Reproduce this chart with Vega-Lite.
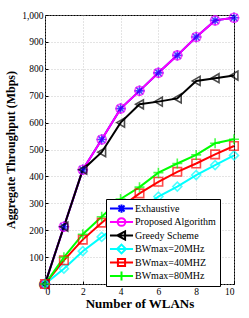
{
  "$schema": "https://vega.github.io/schema/vega-lite/v6.json",
  "width": 189,
  "height": 269,
  "autosize": "none",
  "padding": {"left": 45, "top": 15, "right": 15, "bottom": 34},
  "background": "white",
  "data": {"values": [
    {"n": 0, "scheme": "Exhaustive", "thr": 0},
    {"n": 1, "scheme": "Exhaustive", "thr": 213},
    {"n": 2, "scheme": "Exhaustive", "thr": 425},
    {"n": 3, "scheme": "Exhaustive", "thr": 537},
    {"n": 4, "scheme": "Exhaustive", "thr": 652},
    {"n": 5, "scheme": "Exhaustive", "thr": 718},
    {"n": 6, "scheme": "Exhaustive", "thr": 785},
    {"n": 7, "scheme": "Exhaustive", "thr": 850},
    {"n": 8, "scheme": "Exhaustive", "thr": 918},
    {"n": 9, "scheme": "Exhaustive", "thr": 980},
    {"n": 10, "scheme": "Exhaustive", "thr": 990},
    {"n": 0, "scheme": "Proposed Algorithm", "thr": 0},
    {"n": 1, "scheme": "Proposed Algorithm", "thr": 213},
    {"n": 2, "scheme": "Proposed Algorithm", "thr": 425},
    {"n": 3, "scheme": "Proposed Algorithm", "thr": 537},
    {"n": 4, "scheme": "Proposed Algorithm", "thr": 652},
    {"n": 5, "scheme": "Proposed Algorithm", "thr": 718},
    {"n": 6, "scheme": "Proposed Algorithm", "thr": 785},
    {"n": 7, "scheme": "Proposed Algorithm", "thr": 850},
    {"n": 8, "scheme": "Proposed Algorithm", "thr": 918},
    {"n": 9, "scheme": "Proposed Algorithm", "thr": 980},
    {"n": 10, "scheme": "Proposed Algorithm", "thr": 990},
    {"n": 0, "scheme": "Greedy Scheme", "thr": 0},
    {"n": 1, "scheme": "Greedy Scheme", "thr": 213},
    {"n": 2, "scheme": "Greedy Scheme", "thr": 425},
    {"n": 3, "scheme": "Greedy Scheme", "thr": 490},
    {"n": 4, "scheme": "Greedy Scheme", "thr": 600},
    {"n": 5, "scheme": "Greedy Scheme", "thr": 668},
    {"n": 6, "scheme": "Greedy Scheme", "thr": 678},
    {"n": 7, "scheme": "Greedy Scheme", "thr": 690},
    {"n": 8, "scheme": "Greedy Scheme", "thr": 755},
    {"n": 9, "scheme": "Greedy Scheme", "thr": 765},
    {"n": 10, "scheme": "Greedy Scheme", "thr": 775},
    {"n": 0, "scheme": "BWmax=20MHz", "thr": 0},
    {"n": 1, "scheme": "BWmax=20MHz", "thr": 57},
    {"n": 2, "scheme": "BWmax=20MHz", "thr": 122},
    {"n": 3, "scheme": "BWmax=20MHz", "thr": 175},
    {"n": 4, "scheme": "BWmax=20MHz", "thr": 225},
    {"n": 5, "scheme": "BWmax=20MHz", "thr": 275},
    {"n": 6, "scheme": "BWmax=20MHz", "thr": 325},
    {"n": 7, "scheme": "BWmax=20MHz", "thr": 362},
    {"n": 8, "scheme": "BWmax=20MHz", "thr": 405},
    {"n": 9, "scheme": "BWmax=20MHz", "thr": 442},
    {"n": 10, "scheme": "BWmax=20MHz", "thr": 478},
    {"n": 0, "scheme": "BWmax=40MHZ", "thr": 0},
    {"n": 1, "scheme": "BWmax=40MHZ", "thr": 88},
    {"n": 2, "scheme": "BWmax=40MHZ", "thr": 165},
    {"n": 3, "scheme": "BWmax=40MHZ", "thr": 228},
    {"n": 4, "scheme": "BWmax=40MHZ", "thr": 285},
    {"n": 5, "scheme": "BWmax=40MHZ", "thr": 337},
    {"n": 6, "scheme": "BWmax=40MHZ", "thr": 380},
    {"n": 7, "scheme": "BWmax=40MHZ", "thr": 417},
    {"n": 8, "scheme": "BWmax=40MHZ", "thr": 448},
    {"n": 9, "scheme": "BWmax=40MHZ", "thr": 482},
    {"n": 10, "scheme": "BWmax=40MHZ", "thr": 513},
    {"n": 0, "scheme": "BWmax=80MHz", "thr": 0},
    {"n": 1, "scheme": "BWmax=80MHz", "thr": 99},
    {"n": 2, "scheme": "BWmax=80MHz", "thr": 185},
    {"n": 3, "scheme": "BWmax=80MHz", "thr": 250},
    {"n": 4, "scheme": "BWmax=80MHz", "thr": 316},
    {"n": 5, "scheme": "BWmax=80MHz", "thr": 360},
    {"n": 6, "scheme": "BWmax=80MHz", "thr": 414},
    {"n": 7, "scheme": "BWmax=80MHz", "thr": 448},
    {"n": 8, "scheme": "BWmax=80MHz", "thr": 480},
    {"n": 9, "scheme": "BWmax=80MHz", "thr": 523},
    {"n": 10, "scheme": "BWmax=80MHz", "thr": 538}
  ]},
  "encoding": {
    "x": {"field": "n", "type": "quantitative",
      "scale": {"domain": [0, 10], "nice": false},
      "axis": {"title": "Number of WLANs", "values": [0, 2, 4, 6, 8, 10]}},
    "y": {"field": "thr", "type": "quantitative",
      "scale": {"domain": [0, 1000], "nice": false},
      "axis": {"title": "Aggregate Throughput (Mbps)", "values": [0, 100, 200, 300, 400, 500, 600, 700, 800, 900, 1000]}},
    "color": {"field": "scheme", "type": "nominal",
      "scale": {"domain": ["Exhaustive", "Proposed Algorithm", "Greedy Scheme", "BWmax=20MHz", "BWmax=40MHZ", "BWmax=80MHz"],
        "range": ["#0000ff", "#ff00ff", "#000000", "#00ffff", "#ff0000", "#00ff00"]},
      "legend": {
        "orient": "none", "legendX": 61, "legendY": 184, "title": null, "clipHeight": 13,
        "encode": {"symbols": {"update": {
          "shape": {"signal": "datum.value == 'Exhaustive' ? 'M-2.1,0H2.1M0,-0.75V0.75M-0.55,-0.55L0.55,0.55M-0.55,0.55L0.55,-0.55' : datum.value == 'Proposed Algorithm' ? 'M-2.1,0H2.1M0.7,0A0.7,0.7 0 1,1 -0.7,0A0.7,0.7 0 1,1 0.7,0Z' : datum.value == 'Greedy Scheme' ? 'M-2.1,0H2.1M-0.75,0L0.65,-0.75L0.65,0.75Z' : datum.value == 'BWmax=20MHz' ? 'M-2.1,0H2.1M-0.8,0L0,-0.8L0.8,0L0,0.8Z' : datum.value == 'BWmax=40MHZ' ? 'M-2.1,0H2.1M-0.65,-0.65H0.65V0.65H-0.65Z' : 'M-2.1,0H2.1M0,-0.8V0.8'"},
          "size": {"value": 121},
          "fill": {"value": "transparent"},
          "strokeWidth": {"value": 2}
        }}}
      }
    }
  },
  "layer": [
    {"mark": {"type": "line", "strokeWidth": 2}},
    {"transform": [{"filter": "datum.scheme == 'Exhaustive'"}],
      "mark": {"type": "point", "filled": false, "strokeWidth": 1.6, "size": 110, "shape": "M-1,0H1M0,-1V1M-0.7,-0.7L0.7,0.7M-0.7,0.7L0.7,-0.7"}},
    {"transform": [{"filter": "datum.scheme == 'Proposed Algorithm'"}],
      "mark": {"type": "point", "filled": false, "strokeWidth": 1.6, "size": 81, "shape": "circle"}},
    {"transform": [{"filter": "datum.scheme == 'Greedy Scheme'"}],
      "mark": {"type": "point", "filled": false, "strokeWidth": 1.6, "size": 81, "shape": "triangle-left"}},
    {"transform": [{"filter": "datum.scheme == 'BWmax=20MHz'"}],
      "mark": {"type": "point", "filled": false, "strokeWidth": 1.6, "size": 81, "shape": "diamond"}},
    {"transform": [{"filter": "datum.scheme == 'BWmax=40MHZ'"}],
      "mark": {"type": "point", "filled": false, "strokeWidth": 1.6, "size": 72, "shape": "square"}},
    {"transform": [{"filter": "datum.scheme == 'BWmax=80MHz'"}],
      "mark": {"type": "point", "filled": false, "strokeWidth": 1.6, "size": 100, "shape": "M-1,0H1M0,-1V1"}}
  ],
  "config": {
    "view": {"stroke": "black", "strokeWidth": 1},
    "font": "Liberation Serif",
    "axis": {
      "labelFont": "Liberation Serif", "labelFontSize": 9.5, "labelColor": "black",
      "titleFont": "Liberation Serif", "titleFontWeight": "bold", "titleColor": "black",
      "gridColor": "#bbbbbb", "gridDash": [1, 2], "gridWidth": 0.8,
      "domain": false, "tickColor": "black", "tickSize": -3, "labelPadding": 5
    },
    "axisX": {"titleFontSize": 13, "titlePadding": 2},
    "axisY": {"titleFontSize": 12, "titlePadding": 4},
    "legend": {
      "labelFont": "Liberation Serif", "labelFontSize": 10, "labelColor": "black",
      "symbolSize": 121, "symbolStrokeWidth": 2, "symbolType": "circle", "symbolOffset": 6,
      "strokeColor": "black", "fillColor": "white", "padding": 3,
      "rowPadding": 0.5, "labelOffset": 7, "cornerRadius": 0
    }
  }
}
